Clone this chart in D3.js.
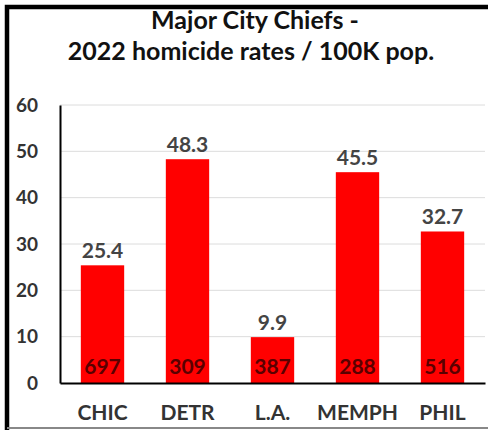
<!DOCTYPE html>
<html>
<head>
<meta charset="utf-8">
<script src="https://d3js.org/d3.v7.min.js"></script>
<style>
  body { margin: 0; background: #fff; font-family: Lato, "Open Sans", sans-serif; }
  svg { display: block; }
</style>
</head>
<body>
<div id="viz"></div>
<script>
// data
const cities = ["CHIC", "DETR", "L.A.", "MEMPH", "PHIL"];
const rates = [25.4, 48.3, 9.9, 45.5, 32.7];
const homicides = [697, 309, 387, 288, 516];
const yTicks = [0, 10, 20, 30, 40, 50, 60];
const titleLines = ["Major City Chiefs -", "2022 homicide rates / 100K pop."];

const W = 488, H = 430;
const margin = {top: 105, right: 3, bottom: 47, left: 60};

const svg = d3.select("#viz").append("svg")
  .attr("width", W).attr("height", H);

// frame
svg.append("rect").attr("x", 0).attr("y", 0).attr("width", W).attr("height", H).attr("fill", "#fff");
svg.append("path")
  .attr("d", `M7,${H} V7 H${W}`)
  .attr("fill", "none").attr("stroke", "#000").attr("stroke-width", 4.5);
svg.append("line")
  .attr("x1", 7).attr("x2", W).attr("y1", H - 2).attr("y2", H - 2)
  .attr("stroke", "#888").attr("stroke-width", 2);

// title
svg.selectAll("text.title")
  .data(titleLines)
  .enter().append("text")
  .attr("class", "title")
  .attr("x", (d, i) => i === 0 ? 255 : 251)
  .attr("y", (d, i) => 29 + i * 30.5)
  .attr("text-anchor", "middle")
  .attr("font-size", 25)
  .attr("font-weight", "bold")
  .attr("fill", "#111")
  .text(d => d);

const x = d3.scaleBand()
  .domain(cities)
  .range([margin.left, W - margin.right])
  .paddingInner(0.49)
  .paddingOuter(0.245);

const y = d3.scaleLinear()
  .domain([0, 60])
  .range([H - margin.bottom, margin.top]);

// gridlines
svg.append("g")
  .selectAll("line")
  .data(yTicks.slice(1))
  .enter().append("line")
  .attr("x1", margin.left).attr("x2", W - margin.right)
  .attr("y1", d => y(d)).attr("y2", d => y(d))
  .attr("stroke", "#dcdcdc").attr("stroke-width", 1);

// y axis
const yAxis = svg.append("g")
  .attr("transform", `translate(${margin.left},0)`)
  .call(d3.axisLeft(y).tickValues(yTicks).tickSize(0).tickPadding(22));
yAxis.select(".domain").attr("stroke", "#000").attr("stroke-width", 2);
yAxis.selectAll("text")
  .attr("font-family", "Lato, sans-serif")
  .attr("font-size", 19).attr("font-weight", "bold").attr("fill", "#333");

// bars
svg.selectAll("rect.bar")
  .data(cities)
  .enter().append("rect")
  .attr("class", "bar")
  .attr("x", d => x(d))
  .attr("width", x.bandwidth())
  .attr("y", (d, i) => y(rates[i]))
  .attr("height", (d, i) => y(0) - y(rates[i]))
  .attr("fill", "#ff0000");

// x axis
const xAxis = svg.append("g")
  .attr("transform", `translate(0,${y(0)})`)
  .call(d3.axisBottom(x).tickSize(0).tickPadding(22));
xAxis.select(".domain").attr("stroke", "#000").attr("stroke-width", 2);
xAxis.selectAll("text")
  .attr("font-family", "Lato, sans-serif")
  .attr("font-size", 21).attr("font-weight", "bold").attr("fill", "#333");

// value labels
svg.selectAll("text.val")
  .data(cities)
  .enter().append("text")
  .attr("class", "val")
  .attr("x", d => x(d) + x.bandwidth() / 2)
  .attr("y", (d, i) => y(rates[i]) - 7)
  .attr("text-anchor", "middle")
  .attr("font-size", 21).attr("font-weight", "bold")
  .attr("fill", "#444")
  .text((d, i) => rates[i].toFixed(1));

// homicide counts inside bars
svg.selectAll("text.count")
  .data(cities)
  .enter().append("text")
  .attr("class", "count")
  .attr("x", d => x(d) + x.bandwidth() / 2)
  .attr("y", y(0) - 9)
  .attr("text-anchor", "middle")
  .attr("font-size", 21).attr("font-weight", "bold")
  .attr("fill", "#5a0000")
  .text((d, i) => homicides[i]);
</script>
</body>
</html>
